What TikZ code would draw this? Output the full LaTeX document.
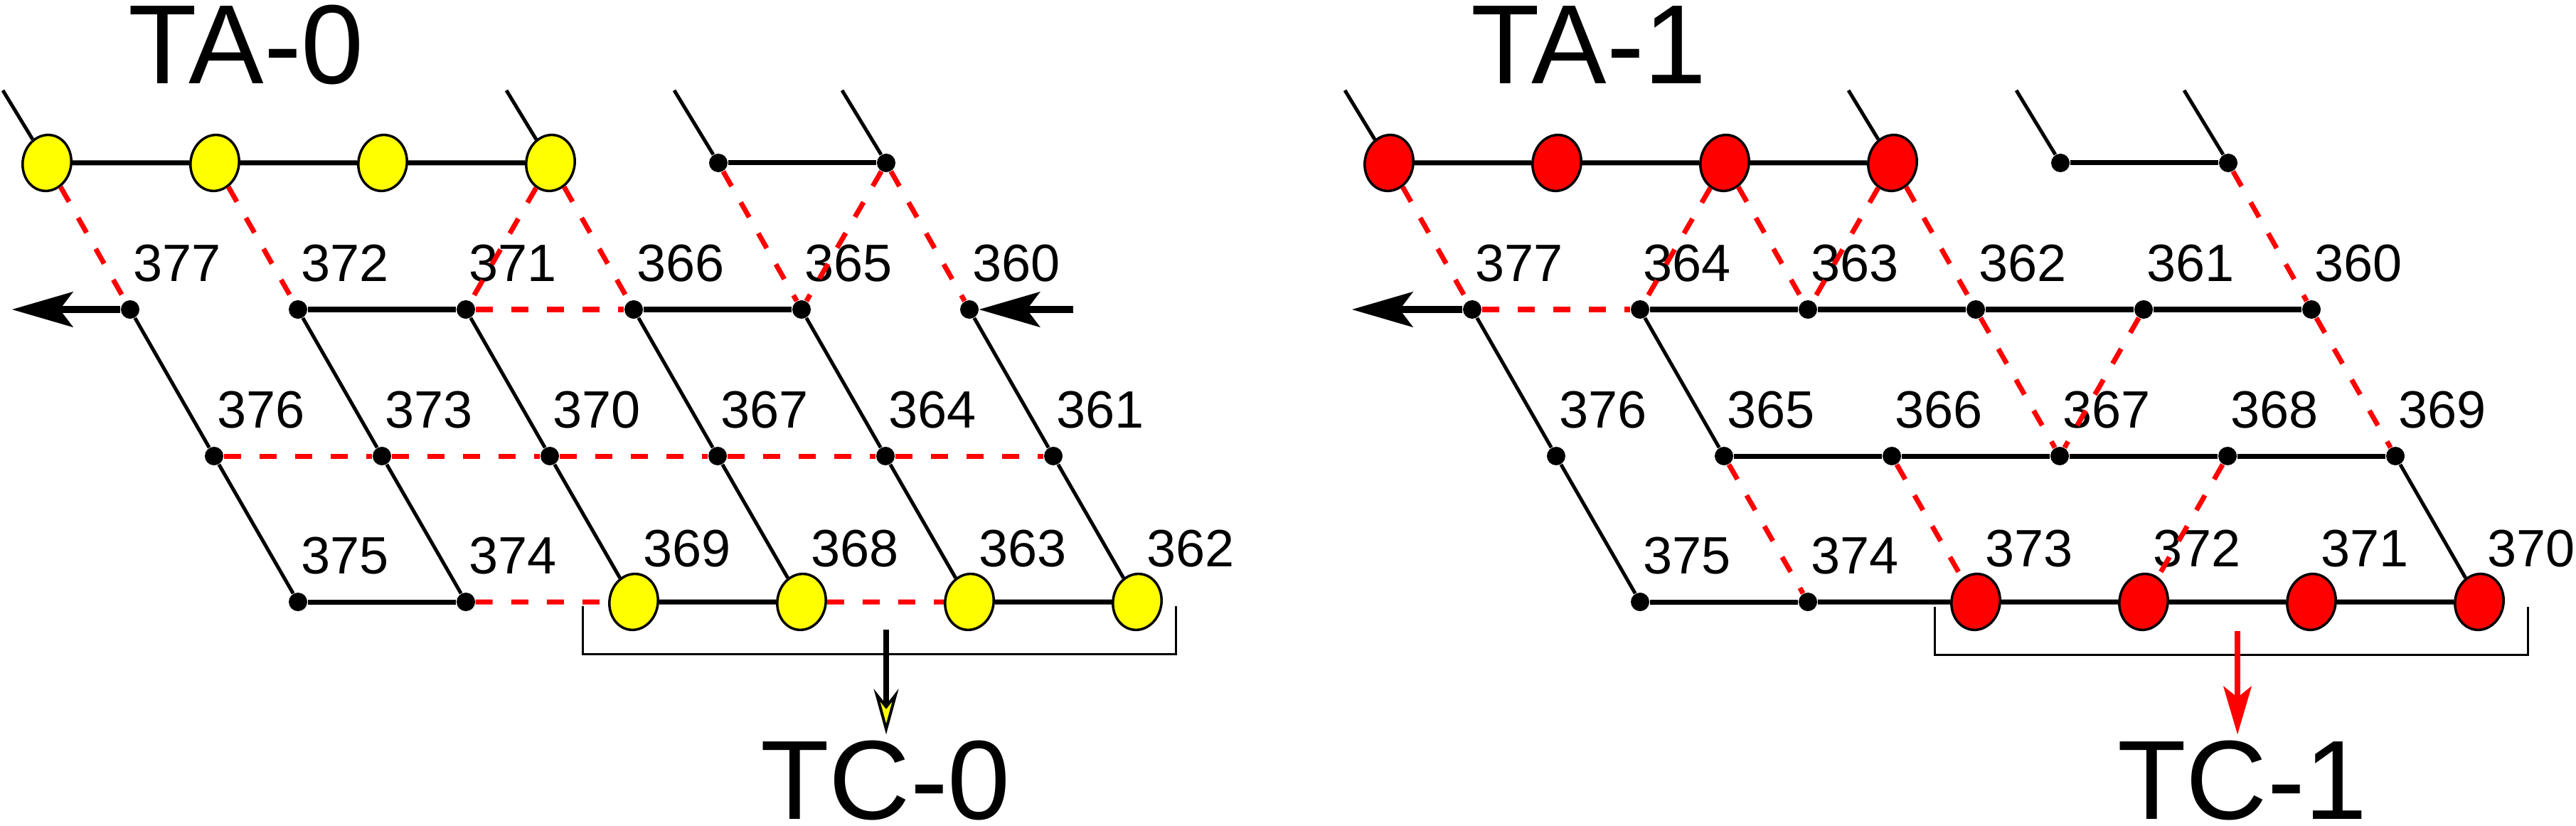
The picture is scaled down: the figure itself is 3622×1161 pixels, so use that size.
\documentclass[tikz,border=0pt]{standalone}
\usepackage{fontspec}
\setmainfont{Liberation Sans}
\usepackage{xcolor}
\definecolor{beadYellow}{HTML}{FFFF00}
\definecolor{beadRed}{HTML}{FF0000}
\definecolor{linkRed}{HTML}{FF0000}
\usetikzlibrary{shapes.geometric, arrows.meta}
\tikzset{
  dot/.style={circle, fill=black, inner sep=0pt, minimum size=2.6mm},
  bead/.style={ellipse, draw=black, line width=0.35mm, inner sep=0pt, minimum width=6.8mm, minimum height=7.9mm, rotate=-10},
  num/.style={inner sep=0pt, font=\fontsize{21}{21}\selectfont},
  title/.style={inner sep=0pt, font=\fontsize{45}{45}\selectfont},
  hlink/.style={line width=0.7mm},
  slink/.style={line width=0.5mm},
  dlink/.style={linkRed, line width=0.7mm, dash pattern=on 2.4mm off 2.6mm},
  bigarrow/.style={line width=1mm, -{Stealth[length=8.6mm, width=5mm, inset=1.9mm, line width=0.2mm]}},
  tcarrow/.style={line width=0.8mm, shorten >=0.8mm, -{Stealth[length=6.4mm, width=3.5mm, inset=2.2mm, line width=0.4mm, fill=beadYellow]}},
  redarrow/.style={linkRed, line width=0.8mm, shorten >=0.8mm, -{Stealth[length=6.8mm, width=4mm, inset=1.6mm, line width=0.1mm]}},
  bracket/.style={line width=0.3mm}
}

\begin{document}
\begin{tikzpicture}[x=0.01cm, y=-0.01cm]
  \useasboundingbox (0,0) rectangle (3622,1161);
  \node[title, anchor=west] (TA0) at (180,63) {TA-0};
  \node[title, anchor=west] (TA1) at (2068,63) {TA-1};
  \node[title] (TC0) at (1245,1097) {TC-0};
  \node[title] (TC1) at (3153,1097) {TC-1};

  \node[bead, fill=beadYellow] (L10) at (66,229) {};
  \node[bead, fill=beadYellow] (L11) at (302,229) {};
  \node[bead, fill=beadYellow] (L12) at (538,229) {};
  \node[bead, fill=beadYellow] (L13) at (774,229) {};
  \node[dot] (L14) at (1010,229) {};
  \node[dot] (L15) at (1246,229) {};
  \node[dot] (L20) at (183,435) {};
  \node[dot] (L21) at (419,435) {};
  \node[dot] (L22) at (655,435) {};
  \node[dot] (L23) at (891,435) {};
  \node[dot] (L24) at (1127,435) {};
  \node[dot] (L25) at (1363,435) {};
  \node[dot] (L30) at (301,641) {};
  \node[dot] (L31) at (537,641) {};
  \node[dot] (L32) at (773,641) {};
  \node[dot] (L33) at (1009,641) {};
  \node[dot] (L34) at (1245,641) {};
  \node[dot] (L35) at (1481,641) {};
  \node[dot] (L40) at (419,846) {};
  \node[dot] (L41) at (655,846) {};
  \node[bead, fill=beadYellow] (L42) at (891,846) {};
  \node[bead, fill=beadYellow] (L43) at (1127,846) {};
  \node[bead, fill=beadYellow] (L44) at (1363,846) {};
  \node[bead, fill=beadYellow] (L45) at (1599,846) {};

  \node[num] (L377) at (249,370) {377};
  \node[num] (L372) at (485,370) {372};
  \node[num] (L371) at (721,370) {371};
  \node[num] (L366) at (957,370) {366};
  \node[num] (L365) at (1193,370) {365};
  \node[num] (L360) at (1429,370) {360};
  \node[num] (L376) at (367,576) {376};
  \node[num] (L373) at (603,576) {373};
  \node[num] (L370) at (839,576) {370};
  \node[num] (L367) at (1075,576) {367};
  \node[num] (L364) at (1311,576) {364};
  \node[num] (L361) at (1547,576) {361};
  \node[num] (L375) at (485,781) {375};
  \node[num] (L374) at (721,781) {374};
  \node[num] (L369) at (966,771) {369};
  \node[num] (L368) at (1202,771) {368};
  \node[num] (L363) at (1438,771) {363};
  \node[num] (L362) at (1674,771) {362};

  \coordinate (L1s0) at (4,127);
  \coordinate (L1s3) at (712,127);
  \coordinate (L1s4) at (948,127);
  \coordinate (L1s5) at (1184,127);
  \coordinate (L2w) at (17,435);
  \coordinate (L2e) at (1509,435);
  \coordinate (L4m) at (1246,885);

  \draw[slink] (L1s0) -- (L10);
  \draw[slink] (L1s3) -- (L13);
  \draw[slink] (L1s4) -- (L14);
  \draw[slink] (L1s5) -- (L15);
  \draw[hlink] (L10) -- (L11);
  \draw[hlink] (L11) -- (L12);
  \draw[hlink] (L12) -- (L13);
  \draw[hlink] (L14) -- (L15);
  \draw[dlink] (L10) -- (L20);
  \draw[dlink] (L11) -- (L21);
  \draw[dlink] (L13) -- (L22);
  \draw[dlink] (L13) -- (L23);
  \draw[dlink] (L14) -- (L24);
  \draw[dlink] (L15) -- (L24);
  \draw[dlink] (L15) -- (L25);
  \draw[bigarrow] (L20) -- (L2w);
  \draw[bigarrow] (L2e) -- (L25);
  \draw[hlink] (L21) -- (L22);
  \draw[dlink] (L22) -- (L23);
  \draw[hlink] (L23) -- (L24);
  \draw[slink] (L20) -- (L30);
  \draw[slink] (L21) -- (L31);
  \draw[slink] (L22) -- (L32);
  \draw[slink] (L23) -- (L33);
  \draw[slink] (L24) -- (L34);
  \draw[slink] (L25) -- (L35);
  \draw[dlink] (L30) -- (L31);
  \draw[dlink] (L31) -- (L32);
  \draw[dlink] (L32) -- (L33);
  \draw[dlink] (L33) -- (L34);
  \draw[dlink] (L34) -- (L35);
  \draw[slink] (L30) -- (L40);
  \draw[slink] (L31) -- (L41);
  \draw[slink] (L32) -- (L42);
  \draw[slink] (L33) -- (L43);
  \draw[slink] (L34) -- (L44);
  \draw[slink] (L35) -- (L45);
  \draw[hlink] (L40) -- (L41);
  \draw[dlink] (L41) -- (L42);
  \draw[hlink] (L42) -- (L43);
  \draw[dlink] (L43) -- (L44);
  \draw[hlink] (L44) -- (L45);
  \draw[bracket] (819,852) -- (819,919) -- (1653,919) -- (1653,852);
  \draw[tcarrow] (L4m) -- (L4m |- TC0.north);

  \node[bead, fill=beadRed] (R10) at (1953,229) {};
  \node[bead, fill=beadRed] (R11) at (2189,229) {};
  \node[bead, fill=beadRed] (R12) at (2425,229) {};
  \node[bead, fill=beadRed] (R13) at (2661,229) {};
  \node[dot] (R14) at (2897,229) {};
  \node[dot] (R15) at (3133,229) {};
  \node[dot] (R20) at (2070,435) {};
  \node[dot] (R21) at (2306,435) {};
  \node[dot] (R22) at (2542,435) {};
  \node[dot] (R23) at (2778,435) {};
  \node[dot] (R24) at (3014,435) {};
  \node[dot] (R25) at (3250,435) {};
  \node[dot] (R30) at (2188,641) {};
  \node[dot] (R31) at (2424,641) {};
  \node[dot] (R32) at (2660,641) {};
  \node[dot] (R33) at (2896,641) {};
  \node[dot] (R34) at (3132,641) {};
  \node[dot] (R35) at (3368,641) {};
  \node[dot] (R40) at (2306,846) {};
  \node[dot] (R41) at (2542,846) {};
  \node[bead, fill=beadRed] (R42) at (2778,846) {};
  \node[bead, fill=beadRed] (R43) at (3014,846) {};
  \node[bead, fill=beadRed] (R44) at (3250,846) {};
  \node[bead, fill=beadRed] (R45) at (3486,846) {};

  \node[num] (R377) at (2136,370) {377};
  \node[num] (R364) at (2372,370) {364};
  \node[num] (R363) at (2608,370) {363};
  \node[num] (R362) at (2844,370) {362};
  \node[num] (R361) at (3080,370) {361};
  \node[num] (R360) at (3316,370) {360};
  \node[num] (R376) at (2254,576) {376};
  \node[num] (R365) at (2490,576) {365};
  \node[num] (R366) at (2726,576) {366};
  \node[num] (R367) at (2962,576) {367};
  \node[num] (R368) at (3198,576) {368};
  \node[num] (R369) at (3434,576) {369};
  \node[num] (R375) at (2372,781) {375};
  \node[num] (R374) at (2608,781) {374};
  \node[num] (R373) at (2853,771) {373};
  \node[num] (R372) at (3089,771) {372};
  \node[num] (R371) at (3325,771) {371};
  \node[num] (R370) at (3559,771) {370};

  \coordinate (R1s0) at (1891,127);
  \coordinate (R1s3) at (2599,127);
  \coordinate (R1s4) at (2835,127);
  \coordinate (R1s5) at (3071,127);
  \coordinate (R2w) at (1901,435);
  \coordinate (R4m) at (3146,887);

  \draw[slink] (R1s0) -- (R10);
  \draw[slink] (R1s3) -- (R13);
  \draw[slink] (R1s4) -- (R14);
  \draw[slink] (R1s5) -- (R15);
  \draw[hlink] (R10) -- (R11);
  \draw[hlink] (R11) -- (R12);
  \draw[hlink] (R12) -- (R13);
  \draw[hlink] (R14) -- (R15);
  \draw[dlink] (R10) -- (R20);
  \draw[dlink] (R12) -- (R21);
  \draw[dlink] (R12) -- (R22);
  \draw[dlink] (R13) -- (R22);
  \draw[dlink] (R13) -- (R23);
  \draw[dlink] (R15) -- (R25);
  \draw[bigarrow] (R20) -- (R2w);
  \draw[dlink] (R20) -- (R21);
  \draw[hlink] (R21) -- (R22);
  \draw[hlink] (R22) -- (R23);
  \draw[hlink] (R23) -- (R24);
  \draw[hlink] (R24) -- (R25);
  \draw[slink] (R20) -- (R30);
  \draw[slink] (R21) -- (R31);
  \draw[dlink] (R23) -- (R33);
  \draw[dlink] (R24) -- (R33);
  \draw[dlink] (R25) -- (R35);
  \draw[hlink] (R31) -- (R32);
  \draw[hlink] (R32) -- (R33);
  \draw[hlink] (R33) -- (R34);
  \draw[hlink] (R34) -- (R35);
  \draw[slink] (R30) -- (R40);
  \draw[dlink] (R31) -- (R41);
  \draw[dlink] (R32) -- (R42);
  \draw[dlink] (R34) -- (R43);
  \draw[slink] (R35) -- (R45);
  \draw[hlink] (R40) -- (R41);
  \draw[hlink] (R41) -- (R42);
  \draw[hlink] (R42) -- (R43);
  \draw[hlink] (R43) -- (R44);
  \draw[hlink] (R44) -- (R45);
  \draw[bracket] (2720,853) -- (2720,920) -- (3554,920) -- (3554,853);
  \draw[redarrow] (R4m) -- (R4m |- TC1.north);
\end{tikzpicture}
\end{document}
